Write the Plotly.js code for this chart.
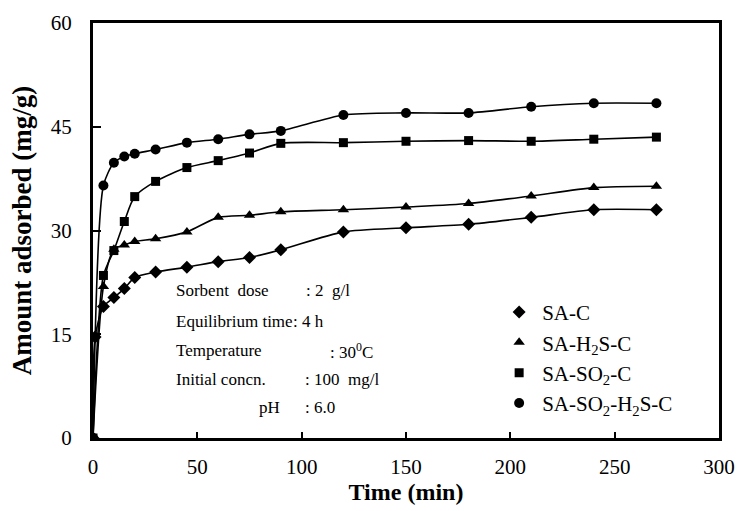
<!DOCTYPE html>
<html>
<head>
<meta charset="utf-8">
<script src="https://cdn.plot.ly/plotly-3.0.1.min.js"></script>
<style>
  html, body { margin: 0; padding: 0; background: #fff; }
  #chart { width: 740px; height: 511px; }
</style>
</head>
<body>
<div id="chart"></div>
<script>
// ---- data ----
const seriesNames = ["SA-C", "SA-H<sub>2</sub>S-C", "SA-SO<sub>2</sub>-C", "SA-SO<sub>2</sub>-H<sub>2</sub>S-C"];

const timeSAC = [0, 1, 5, 10, 15, 20, 30, 45, 60, 75, 90, 120, 150, 180, 210, 240, 270];
const valSAC  = [0, 14.6, 19.0, 20.3, 21.6, 23.2, 24.0, 24.7, 25.5, 26.1, 27.2, 29.8, 30.4, 30.9, 31.9, 33.0, 33.0];

const timeH2S = [0, 5, 10, 15, 20, 30, 45, 60, 75, 90, 120, 150, 180, 210, 240, 270];
const valH2S  = [0, 21.9, 27.3, 27.9, 28.4, 28.8, 29.8, 31.9, 32.2, 32.7, 33.0, 33.4, 33.9, 35.0, 36.2, 36.4];

const timeSO2 = [0, 5, 10, 15, 20, 30, 45, 60, 75, 90, 120, 150, 180, 210, 240, 270];
const valSO2  = [0, 23.5, 27.1, 31.3, 34.9, 37.1, 39.1, 40.1, 41.2, 42.6, 42.7, 42.9, 43.0, 42.9, 43.2, 43.5];

const timeSO2H2S = [0, 5, 10, 15, 20, 30, 45, 60, 75, 90, 120, 150, 180, 210, 240, 270];
const valSO2H2S  = [0, 36.5, 39.8, 40.7, 41.1, 41.7, 42.7, 43.2, 43.9, 44.4, 46.7, 47.0, 47.0, 47.9, 48.4, 48.4];

const xTicks = [0, 50, 100, 150, 200, 250, 300];
const yTicks = [0, 15, 30, 45, 60];

const infoLabels = ["Sorbent\u00a0\u00a0dose", "Equilibrium\u00a0time", "Temperature", "Initial\u00a0concn.", "pH"];
const infoValues = [": 2\u00a0\u00a0g/l", ": 4 h", ": 30<sup>0</sup>C", ": 100\u00a0\u00a0mg/l", ": 6.0"];

// ---- styling ----
const FONT = '"Liberation Serif", "Times New Roman", Times, serif';
const symbols = ["diamond", "triangle-up", "square", "circle"];
const sizes = [10, 10, 9, 10];
const xs = [timeSAC, timeH2S, timeSO2, timeSO2H2S];
const ys = [valSAC, valH2S, valSO2, valSO2H2S];

const traces = [];
for (let i = 0; i < 4; i++) {
  traces.push({
    x: xs[i], y: ys[i], type: "scatter", mode: "lines",
    line: { color: "#000", width: 1.6, shape: "spline", smoothing: 0.7 },
    showlegend: false, hoverinfo: "skip", cliponaxis: true
  });
}
for (let i = 0; i < 4; i++) {
  traces.push({
    x: xs[i], y: ys[i], type: "scatter", mode: "markers",
    name: seriesNames[i],
    marker: { symbol: symbols[i], size: sizes[i], color: "#000" },
    cliponaxis: true
  });
}

const rowY = [0.355, 0.281, 0.210, 0.142, 0.074];
const labelX = [0.129, 0.129, 0.129, 0.129, 0.262];
const colonX = [0.337, 0.316, 0.375, 0.335, 0.335];
const annotations = [];
for (let i = 0; i < infoLabels.length; i++) {
  annotations.push({
    xref: "paper", yref: "paper", x: labelX[i], y: rowY[i],
    xanchor: "left", yanchor: "middle", showarrow: false,
    text: infoLabels[i], font: { family: FONT, size: 17, color: "#000" }
  });
  annotations.push({
    xref: "paper", yref: "paper", x: colonX[i], y: rowY[i],
    xanchor: "left", yanchor: "middle", showarrow: false,
    text: infoValues[i], font: { family: FONT, size: 17, color: "#000" }
  });
}

const layout = {
  width: 740, height: 511,
  margin: { l: 93, r: 21, t: 23, b: 73 },
  paper_bgcolor: "#fff", plot_bgcolor: "#fff",
  font: { family: FONT, color: "#000", size: 20 },
  showlegend: true,
  legend: {
    x: 0.644, y: 0.352, xanchor: "left", yanchor: "top",
    bgcolor: "rgba(0,0,0,0)", borderwidth: 0,
    font: { family: FONT, size: 21, color: "#000" },
    itemwidth: 36, tracegroupgap: 0
  },
  xaxis: {
    range: [0, 300], tickvals: xTicks, ticktext: xTicks.map(String),
    ticks: "inside", ticklen: 6, tickwidth: 2, tickcolor: "#000",
    showline: true, linewidth: 3, linecolor: "#000", mirror: true,
    showgrid: false, zeroline: false,
    tickfont: { family: FONT, size: 21, color: "#000" },
    ticklabelstandoff: 8,
    title: { text: "<b>Time (min)</b>", font: { family: FONT, size: 24, color: "#000" }, standoff: 3 }
  },
  yaxis: {
    range: [0, 60], tickvals: yTicks, ticktext: yTicks.map(String),
    ticks: "inside", ticklen: 8, tickwidth: 2, tickcolor: "#000",
    showline: true, linewidth: 3, linecolor: "#000", mirror: true,
    showgrid: false, zeroline: false,
    tickfont: { family: FONT, size: 21, color: "#000" },
    ticklabelstandoff: 14,
    title: { text: "<b>Amount adsorbed (mg/g)</b>", font: { family: FONT, size: 27, color: "#000" }, standoff: 12 }
  },
  annotations: annotations
};

Plotly.newPlot("chart", traces, layout, { staticPlot: true, displayModeBar: false });
</script>
</body>
</html>
